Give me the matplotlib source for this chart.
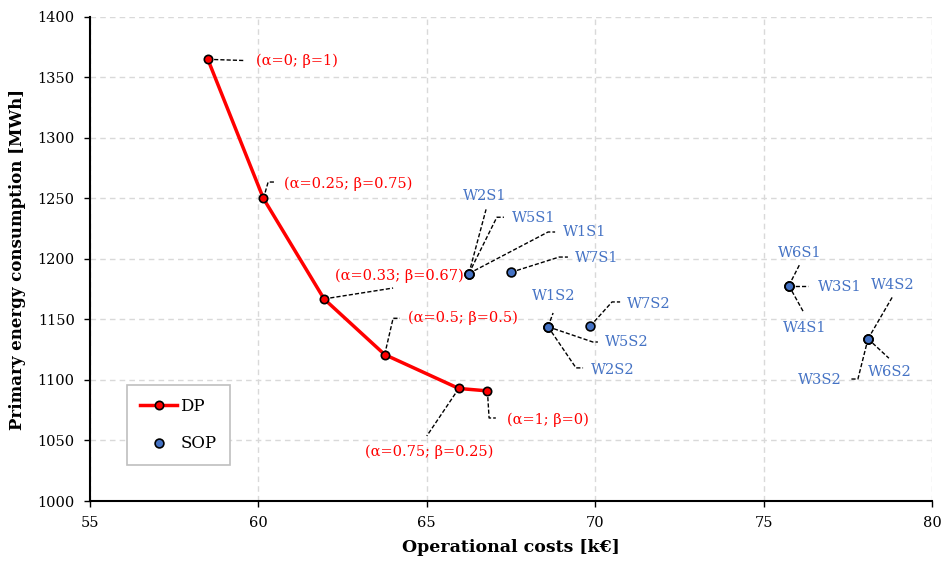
import matplotlib.pyplot as plt

# DP front (alpha/beta weighted)
dp_cost = [58.5, 60.15, 61.95, 63.75, 65.95, 66.8]
dp_energy = [1365, 1250, 1167, 1121, 1093, 1091]
dp_labels = ['(α=0; β=1)', '(α=0.25; β=0.75)', '(α=0.33; β=0.67)',
             '(α=0.5; β=0.5)', '(α=0.75; β=0.25)', '(α=1; β=0)']

# SOP scenarios
sop_names = ['W1S1', 'W2S1', 'W5S1', 'W7S1', 'W1S2', 'W2S2', 'W5S2', 'W7S2',
             'W3S1', 'W4S1', 'W6S1', 'W3S2', 'W4S2', 'W6S2']
sop_cost = [66.25, 66.25, 66.25, 67.5, 68.6, 68.6, 68.6, 69.85,
            75.75, 75.75, 75.75, 78.1, 78.1, 78.1]
sop_energy = [1188, 1188, 1188, 1189, 1144, 1144, 1144, 1144.5,
              1178, 1178, 1178, 1134, 1134, 1134]

RED = '#FF0000'
BLUE = '#4472C4'
plt.rcParams['font.family'] = ['DejaVu Serif']

fig = plt.figure(figsize=(9.44, 5.64), dpi=100)
ax = fig.add_axes([0.0953, 0.1117, 0.892, 0.8582])

ax.plot(dp_cost, dp_energy, color=RED, lw=2.5, marker='o', ms=6,
        mfc=RED, mec='black', mew=1.2, label='DP', zorder=4)
ax.scatter(sop_cost, sop_energy, s=40, color=BLUE, edgecolors='black',
           linewidths=1.2, label='SOP', zorder=4)

# label placement: (text x, text y, ha, leader bends...)
dp_place = [
    (59.93, 1364, 'left', [(59.6, 1364)]),
    (60.76, 1262, 'left', [(60.29, 1263.6), (60.52, 1263.6)]),
    (62.27, 1186, 'left', [(64.0, 1176)]),
    (64.44, 1151, 'left', [(64.0, 1151), (64.2, 1151)]),
    (63.17, 1041, 'left', [(65.0, 1053.7)]),
    (67.38, 1067, 'left', [(66.85, 1068.6), (67.05, 1068.6)]),
]
for (x, y), lab, (tx, ty, ha, pts) in zip(zip(dp_cost, dp_energy), dp_labels, dp_place):
    xs = [x] + [p[0] for p in pts]
    ys = [y] + [p[1] for p in pts]
    ax.plot(xs, ys, color='black', lw=1, ls=(0, (3, 1.5)), zorder=3)
    ax.text(tx, ty, lab, color=RED, fontsize=10.5, ha=ha, va='center')

sop_place = {
    'W2S1': (66.73, 1252, 'center', [(66.76, 1241)]),
    'W5S1': (67.53, 1234, 'left', [(67.08, 1234.5), (67.29, 1234.5)]),
    'W1S1': (69.04, 1222, 'left', [(68.6, 1222.3), (68.81, 1222.3)]),
    'W7S1': (69.40, 1201, 'left', [(68.93, 1201.6), (69.19, 1201.6)]),
    'W1S2': (68.78, 1169.5, 'center', [(68.75, 1155.4)]),
    'W5S2': (70.29, 1131, 'left', [(69.93, 1131.4), (70.08, 1131.4)]),
    'W2S2': (69.88, 1108.5, 'left', [(69.43, 1110), (69.64, 1110)]),
    'W7S2': (70.94, 1163, 'left', [(70.5, 1164.5), (70.74, 1164.5)]),
    'W6S1': (76.08, 1205, 'center', [(76.08, 1196)]),
    'W3S1': (76.62, 1177, 'left', [(76.32, 1178)]),
    'W4S1': (76.23, 1143, 'center', [(76.2, 1155.4)]),
    'W4S2': (78.84, 1178.5, 'center', [(78.84, 1169.4)]),
    'W6S2': (78.75, 1106.5, 'center', [(78.72, 1118)]),
    'W3S2': (77.33, 1100, 'right', [(77.8, 1100.8), (77.57, 1100.8)]),
}
for name, x, y in zip(sop_names, sop_cost, sop_energy):
    tx, ty, ha, pts = sop_place[name]
    xs = [x] + [p[0] for p in pts]
    ys = [y] + [p[1] for p in pts]
    ax.plot(xs, ys, color='black', lw=1, ls=(0, (3, 1.5)), zorder=3)
    ax.text(tx, ty, name, color=BLUE, fontsize=10.5, ha=ha, va='center')

ax.set_xlim(55, 80)
ax.set_ylim(1000, 1400)
ax.set_xticks(range(55, 81, 5))
ax.set_yticks(range(1000, 1401, 50))
ax.grid(True, color='#D9D9D9', ls=(0, (4, 3)), lw=1)
ax.set_axisbelow(True)
for s in ['top', 'right']:
    ax.spines[s].set_visible(False)
for s in ['left', 'bottom']:
    ax.spines[s].set_linewidth(1.5)
ax.tick_params(labelsize=10.5, length=4, width=1)
ax.tick_params(axis='y', pad=7)
ax.tick_params(axis='x', pad=7)
ax.set_xlabel('Operational costs [k€]', fontsize=12.5, fontweight='bold', labelpad=6)
ax.set_ylabel('Primary energy consumption [MWh]', fontsize=12, fontweight='bold', labelpad=8)

leg = ax.legend(loc='lower left', bbox_to_anchor=(0.044, 0.074), fontsize=12,
                fancybox=False, edgecolor='#BFBFBF', framealpha=1,
                labelspacing=1.2, handlelength=2.2, handletextpad=0.2,
                borderpad=0.8, borderaxespad=0)
leg.get_frame().set_linewidth(1.2)

fig.savefig('out.png', dpi=100)
